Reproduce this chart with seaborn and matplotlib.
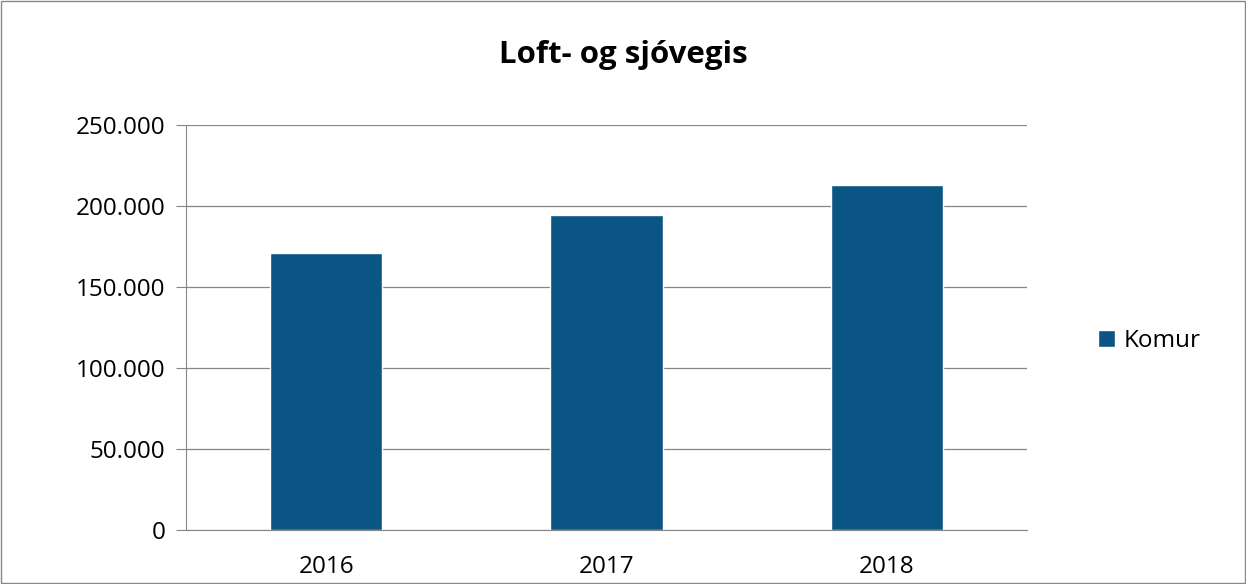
import matplotlib
matplotlib.use("Agg")
import matplotlib.pyplot as plt
import seaborn as sns
import pandas as pd
from matplotlib.ticker import FuncFormatter, FixedLocator

# data
years = ["2016", "2017", "2018"]
komur = [170800, 194400, 212900]
series_name = "Komur"
title = "Loft- og sjóvegis"

sns.set_style("white")
plt.rcParams['font.family'] = ['Open Sans', 'DejaVu Sans']
plt.rcParams['text.color'] = 'black'
plt.rcParams['xtick.labelcolor'] = 'black'
plt.rcParams['ytick.labelcolor'] = 'black'

df = pd.DataFrame({"ar": years, "komur": komur})

fig = plt.figure(figsize=(12.46, 5.84), dpi=100)
ax = fig.add_axes([0.1493, 0.0925, 0.6749, 0.6935])

bar_col = "#0B5585"
sns.barplot(data=df, x="ar", y="komur", color=bar_col, width=0.4,
            label=series_name, ax=ax, saturation=1)
if ax.get_legend() is not None:
    ax.get_legend().remove()

ax.set_ylim(0, 250000)
ax.set_xlim(-0.5, 2.5)
ax.yaxis.set_major_locator(FixedLocator([0, 50000, 100000, 150000, 200000, 250000]))
ax.yaxis.set_major_formatter(FuncFormatter(lambda v, p: f"{int(v):,}".replace(",", ".")))
ax.set_xlabel("")
ax.set_ylabel("")

grid_col = "#868686"
ax.grid(axis="y", color=grid_col, linewidth=0.9)
ax.set_axisbelow(True)
for s in ["top", "right"]:
    ax.spines[s].set_visible(False)
ax.spines["left"].set_color(grid_col)
ax.spines["bottom"].set_color(grid_col)

ax.set_xticks([-0.5, 0.5, 1.5, 2.5], minor=True)
ax.tick_params(axis="x", which="major", length=0, labelsize=17.5, pad=18, labelcolor="black")
ax.tick_params(axis="x", which="minor", length=6, color=grid_col, direction="out")
ax.tick_params(axis="y", length=7, color=grid_col, direction="out", labelsize=17.5, pad=8,
               left=True, labelcolor="black")

fig.text(0.5, 1 - 55 / 584, title, fontsize=22.5, fontweight="bold", ha="center", va="center",
         color="black")

handles, labels = ax.get_legend_handles_labels()
fig.legend(handles, labels, loc="center left", bbox_to_anchor=(1098 / 1246, 1 - 341 / 584),
           frameon=False, fontsize=17.5, handlelength=0.7, handleheight=0.7,
           handletextpad=0.35, borderpad=0, borderaxespad=0, labelcolor="black")

fig.patches.append(plt.Rectangle((0.001, 0.001), 0.998, 0.997, transform=fig.transFigure,
                                 fill=False, edgecolor="#888888", linewidth=1))

fig.savefig("out.png", dpi=100)
